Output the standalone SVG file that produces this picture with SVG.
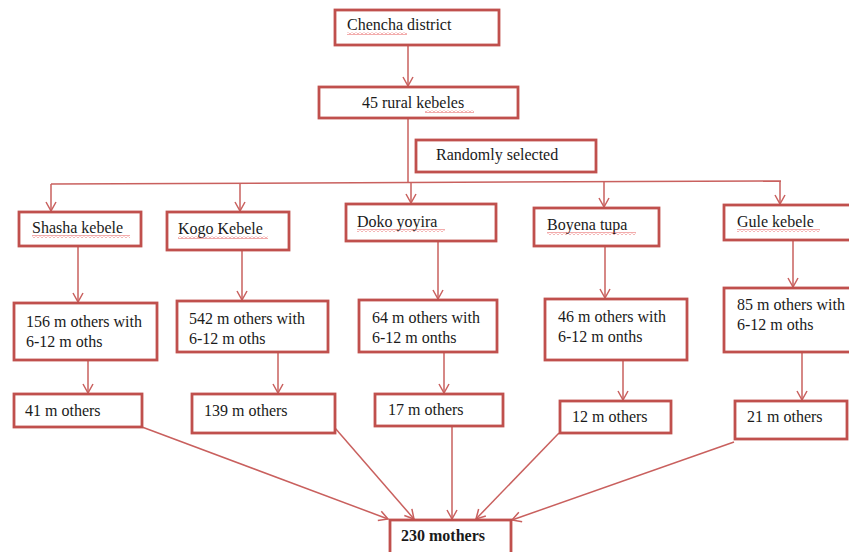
<svg xmlns="http://www.w3.org/2000/svg" width="849" height="552" viewBox="0 0 849 552">
<defs>
<style>
.box{fill:#fff;stroke:#c0504d;stroke-width:2.8}
.t{font-family:"Liberation Serif","Times New Roman",serif;font-size:16px;fill:#1a1a1a}
.b{font-weight:bold}
.c{stroke:#c9605e;stroke-width:1.5;fill:none}
.sq{fill:url(#squig)}
</style>
<marker id="ah" markerUnits="userSpaceOnUse" markerWidth="14" markerHeight="14" refX="10" refY="6" orient="auto">
<path d="M1,1 L10,6 L1,11" fill="none" stroke="#c9605e" stroke-width="1.5"/>
</marker>
<pattern id="squig" patternUnits="userSpaceOnUse" width="4" height="3">
<path d="M0,2.5 L2,0.5 L4,2.5" fill="none" stroke="#e03030" stroke-width="0.8"/>
</pattern>
</defs>
<rect width="849" height="552" fill="#fff"/>
<g id="connectors">
<line class="c" x1="408" y1="45" x2="408" y2="86" marker-end="url(#ah)"/>
<line class="c" x1="408" y1="118" x2="408" y2="183"/>
<line class="c" x1="51" y1="184" x2="781" y2="181"/>
<line class="c" x1="51" y1="184" x2="51" y2="211" marker-end="url(#ah)"/>
<line class="c" x1="240" y1="183" x2="240" y2="211" marker-end="url(#ah)"/>
<line class="c" x1="411" y1="183" x2="411" y2="203" marker-end="url(#ah)"/>
<line class="c" x1="604" y1="182" x2="604" y2="207" marker-end="url(#ah)"/>
<line class="c" x1="780" y1="181" x2="780" y2="204" marker-end="url(#ah)"/>
<line class="c" x1="78" y1="247" x2="78" y2="302" marker-end="url(#ah)"/>
<line class="c" x1="242" y1="251" x2="242" y2="300" marker-end="url(#ah)"/>
<line class="c" x1="438" y1="242" x2="438" y2="299" marker-end="url(#ah)"/>
<line class="c" x1="605" y1="247" x2="605" y2="298" marker-end="url(#ah)"/>
<line class="c" x1="793" y1="240" x2="793" y2="287" marker-end="url(#ah)"/>
<line class="c" x1="88" y1="360" x2="88" y2="393" marker-end="url(#ah)"/>
<line class="c" x1="278" y1="352" x2="278" y2="393" marker-end="url(#ah)"/>
<line class="c" x1="444" y1="352" x2="444" y2="393" marker-end="url(#ah)"/>
<line class="c" x1="623" y1="360" x2="623" y2="400" marker-end="url(#ah)"/>
<line class="c" x1="802" y1="352" x2="802" y2="400" marker-end="url(#ah)"/>
<line class="c" x1="142" y1="427" x2="388" y2="519" marker-end="url(#ah)"/>
<line class="c" x1="335" y1="428" x2="414" y2="519" marker-end="url(#ah)"/>
<line class="c" x1="452" y1="426" x2="452" y2="519" marker-end="url(#ah)"/>
<line class="c" x1="559" y1="433" x2="476" y2="519" marker-end="url(#ah)"/>
<line class="c" x1="734" y1="442" x2="512" y2="520" marker-end="url(#ah)"/>
</g>
<g id="chencha"><rect class="box" x="335" y="10" width="164" height="35"/><text class="t" x="347" y="30">Chencha district</text><rect class="sq" x="347" y="32" width="60" height="3"/></g>
<g id="rural"><rect class="box" x="319" y="87" width="199" height="31"/><text class="t" x="362" y="108">45 rural kebeles</text><rect class="sq" x="425" y="110" width="49" height="3"/></g>
<g id="random"><rect class="box" x="416" y="140" width="180" height="32"/><text class="t" x="436" y="160">Randomly selected</text></g>
<g id="shasha"><rect class="box" x="19" y="212" width="122" height="34"/><text class="t" x="32" y="233">Shasha kebele</text><rect class="sq" x="32" y="235" width="98" height="3"/></g>
<g id="kogo"><rect class="box" x="167" y="212" width="122" height="38"/><text class="t" x="178" y="234">Kogo Kebele</text><rect class="sq" x="178" y="236" width="90" height="3"/></g>
<g id="doko"><rect class="box" x="346" y="204" width="150" height="37"/><text class="t" x="357" y="227">Doko yoyira</text><rect class="sq" x="357" y="229" width="88" height="3"/></g>
<g id="boyena"><rect class="box" x="534" y="208" width="125" height="38"/><text class="t" x="547" y="230">Boyena tupa</text><rect class="sq" x="547" y="232" width="89" height="3"/></g>
<g id="gule"><rect class="box" x="724" y="205" width="130" height="35"/><text class="t" x="737" y="227">Gule kebele</text><rect class="sq" x="737" y="229" width="83" height="3"/></g>
<g id="n156"><rect class="box" x="14" y="303" width="143" height="57"/><text class="t" x="26" y="327">156 m others with</text><text class="t" x="26" y="347">6-12 m oths</text></g>
<g id="n542"><rect class="box" x="177" y="301" width="151" height="51"/><text class="t" x="189" y="324">542 m others with</text><text class="t" x="189" y="344">6-12 m oths</text></g>
<g id="n64"><rect class="box" x="359" y="300" width="138" height="52"/><text class="t" x="372" y="323">64 m others with</text><text class="t" x="372" y="343">6-12 m onths</text></g>
<g id="n46"><rect class="box" x="545" y="299" width="142" height="61"/><text class="t" x="558" y="322">46 m others with</text><text class="t" x="558" y="342">6-12 m onths</text></g>
<g id="n85"><rect class="box" x="724" y="288" width="130" height="64"/><text class="t" x="737" y="310">85 m others with</text><text class="t" x="737" y="330">6-12 m oths</text></g>
<g id="n41"><rect class="box" x="14" y="394" width="128" height="33"/><text class="t" x="25" y="416">41 m others</text></g>
<g id="n139"><rect class="box" x="192" y="394" width="143" height="39"/><text class="t" x="204" y="416">139 m others</text></g>
<g id="n17"><rect class="box" x="375" y="394" width="128" height="32"/><text class="t" x="388" y="415">17 m others</text></g>
<g id="n12"><rect class="box" x="560" y="401" width="111" height="32"/><text class="t" x="572" y="422">12 m others</text></g>
<g id="n21"><rect class="box" x="735" y="401" width="112" height="38"/><text class="t" x="747" y="422">21 m others</text></g>
<g id="n230"><rect class="box" x="390" y="520" width="121" height="40"/><text class="t b" x="401" y="541">230 mothers</text></g>
</svg>
